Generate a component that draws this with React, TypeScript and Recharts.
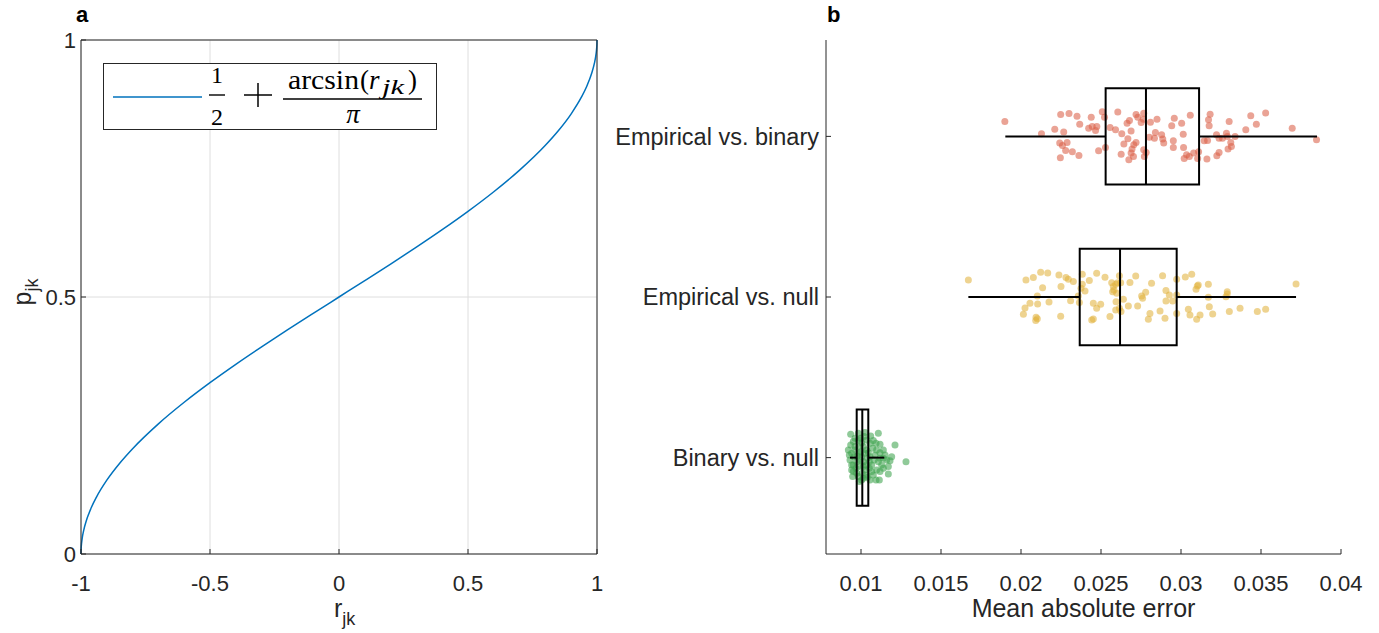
import React from 'react';
import {
  ComposedChart,
  LineChart,
  Line,
  Scatter,
  XAxis,
  YAxis,
  CartesianGrid,
  ReferenceArea,
  ReferenceLine,
  Legend,
} from 'recharts';

// ── Panel a: p = 1/2 + arcsin(r)/pi ──
const rValues = [
  -1, -0.9999, -0.999, -0.998, -0.995, -0.99, -0.98, -0.97, -0.96, -0.94, -0.9, -0.85, -0.8,
  -0.7, -0.6, -0.5, -0.4, -0.3, -0.2, -0.1, 0, 0.1, 0.2, 0.3, 0.4, 0.5, 0.6, 0.7, 0.8, 0.85,
  0.9, 0.94, 0.96, 0.97, 0.98, 0.99, 0.995, 0.998, 0.999, 0.9999, 1,
];
const pValues = [
  0, 0.0045, 0.01423, 0.02014, 0.03189, 0.04505, 0.06377, 0.07798, 0.09033, 0.11083, 0.14357,
  0.1766, 0.20483, 0.25318, 0.29517, 0.33333, 0.36901, 0.40301, 0.43591, 0.46811, 0.5, 0.53189,
  0.56409, 0.59699, 0.63099, 0.66667, 0.70483, 0.74682, 0.79517, 0.8234, 0.85643, 0.88917,
  0.90967, 0.92202, 0.93623, 0.95495, 0.96811, 0.97986, 0.98577, 0.9955, 1,
];
const rTicks = [-1, -0.5, 0, 0.5, 1];
const pTicks = [0, 0.5, 1];

// ── Panel b: box stats per group (bottom to top) ──
const groupNames = ['Binary vs. null', 'Empirical vs. null', 'Empirical vs. binary'];
const groupPos = [1, 2, 3];
const whiskerLow = [0.009313, 0.01671, 0.01902];
const q1 = [0.009731, 0.02367, 0.02529];
const median = [0.010081, 0.02619, 0.02781];
const q3 = [0.010456, 0.02973, 0.03113];
const whiskerHigh = [0.011456, 0.03719, 0.0385];
const maeTicks = [0.01, 0.015, 0.02, 0.025, 0.03, 0.035, 0.04];

// jittered points: value and vertical jitter around the group position
const redMae = [
  0.01899, 0.02128, 0.02211, 0.02248, 0.023, 0.0235, 0.02367, 0.02267, 0.02242, 0.02259, 0.02288,
  0.02279, 0.02246, 0.02321, 0.02362, 0.02423, 0.02439, 0.02445, 0.02466, 0.02474, 0.02508,
  0.02522, 0.02485, 0.02528, 0.02557, 0.02591, 0.02605, 0.0263, 0.02643, 0.02626, 0.02674,
  0.02668, 0.02688, 0.02663, 0.02678, 0.02719, 0.0273, 0.02751, 0.02767, 0.02765, 0.02809,
  0.0285, 0.02719, 0.02705, 0.02694, 0.02688, 0.02703, 0.02767, 0.02771, 0.02782, 0.02802,
  0.0284, 0.02834, 0.02879, 0.02886, 0.02892, 0.02942, 0.02952, 0.02958, 0.02952, 0.03004,
  0.03014, 0.03016, 0.0302, 0.03035, 0.03052, 0.03058, 0.03079, 0.0311, 0.03104, 0.03145,
  0.03166, 0.03162, 0.03176, 0.03172, 0.03182, 0.03222, 0.03238, 0.03259, 0.03284, 0.0329,
  0.03301, 0.03311, 0.03294, 0.03315, 0.03338, 0.03238, 0.03224, 0.03405, 0.03436, 0.03471,
  0.03529, 0.03695, 0.03847,
];
const redJit = [
  0.092, 0.016, 0.045, 0.136, 0.142, 0.126, 0.076, 0.028, -0.042, -0.057, -0.038, -0.088, -0.133,
  -0.096, -0.119, 0.051, 0.119, 0.061, 0.036, 0.061, 0.154, 0.119, -0.09, -0.069, 0.055, 0.041,
  0.152, 0.016, -0.048, -0.112, -0.146, -0.015, 0.034, 0.082, 0.099, 0.136, 0.119, 0.086, 0.144,
  0.107, 0.088, 0.107, -0.038, -0.052, -0.079, -0.104, -0.125, -0.083, -0.125, -0.1, -0.005,
  0.024, -0.011, 0.01, -0.017, -0.042, 0.066, -0.028, 0.113, -0.069, 0.082, 0.014, -0.069,
  -0.137, -0.115, -0.125, 0.132, -0.104, -0.096, -0.137, -0.028, -0.026, -0.141, 0.066, 0.103,
  0.138, 0.01, -0.011, -0.011, 0.02, -0.001, 0.092, -0.038, -0.079, -0.063, -0.001, -0.1, -0.121,
  0.041, 0.128, 0.076, 0.146, 0.051, -0.021,
];
const goldMae = [
  0.01671, 0.02031, 0.02077, 0.02123, 0.02167, 0.02237, 0.02281, 0.02296, 0.02327, 0.02135,
  0.0225, 0.02102, 0.02056, 0.02104, 0.02175, 0.02025, 0.02015, 0.02094, 0.02102, 0.02092,
  0.02248, 0.0231, 0.02358, 0.02365, 0.02375, 0.02383, 0.02383, 0.024, 0.02427, 0.02473, 0.02525,
  0.02567, 0.02577, 0.02573, 0.02581, 0.02592, 0.02604, 0.02615, 0.02623, 0.02598, 0.02594,
  0.02592, 0.02615, 0.02625, 0.0264, 0.02671, 0.02681, 0.02717, 0.02729, 0.02754, 0.0276,
  0.02779, 0.02816, 0.02452, 0.02473, 0.02498, 0.02452, 0.02442, 0.02556, 0.02806, 0.02796,
  0.02869, 0.029, 0.02885, 0.02906, 0.02927, 0.02906, 0.02948, 0.02973, 0.02973, 0.02973,
  0.03027, 0.03067, 0.03046, 0.03056, 0.03102, 0.03094, 0.03108, 0.03098, 0.03119, 0.03171,
  0.03171, 0.03177, 0.03198, 0.03281, 0.03289, 0.03289, 0.03302, 0.03369, 0.03477, 0.03529,
  0.03719,
];
const goldJit = [
  0.106, 0.106, 0.121, 0.154, 0.15, 0.137, 0.121, 0.11, 0.096, 0.058, 0.065, 0.006, -0.039,
  -0.043, -0.031, -0.068, -0.108, -0.126, -0.135, -0.147, -0.12, -0.023, 0.006, -0.035, 0.054,
  0.079, 0.141, 0.037, 0.102, 0.148, 0.123, 0.089, 0.065, 0.033, 0.044, 0.079, 0.089, 0.133,
  0.089, 0.023, -0.029, -0.081, -0.07, -0.091, -0.014, -0.056, 0.091, 0.131, -0.056, 0.006,
  -0.008, 0.029, 0.085, -0.039, -0.07, -0.045, -0.137, -0.143, -0.122, -0.102, -0.139, -0.087,
  -0.133, 0.133, 0.04, 0.013, -0.025, -0.025, 0.11, 0.013, -0.102, 0.125, 0.141, -0.077, -0.112,
  0.069, 0.048, 0.075, -0.139, -0.112, 0.079, -0.002, -0.06, -0.106, 0.002, 0.033, 0.019, -0.091,
  -0.07, -0.091, -0.077, 0.081,
];
const greenMae = [
  0.009354, 0.009834, 0.01025, 0.011083, 0.010771, 0.010938, 0.011188, 0.012125, 0.009209,
  0.009417, 0.009625, 0.010354, 0.010458, 0.010563, 0.010875, 0.011188, 0.011396, 0.011604,
  0.011813, 0.012812, 0.011708, 0.011292, 0.010979, 0.011188, 0.011708, 0.011146, 0.010563,
  0.010146, 0.009834, 0.009521, 0.009417, 0.009729, 0.009938, 0.010042, 0.01025, 0.010667,
  0.010771, 0.010354, 0.010042, 0.009896, 0.009521, 0.009313, 0.010146, 0.010521, 0.011083,
  0.011396, 0.010729, 0.009771, 0.009563, 0.009979, 0.010396, 0.010938, 0.011396, 0.009688,
  0.009479, 0.010188, 0.010604, 0.009979, 0.009271, 0.0115, 0.011917, 0.010979, 0.010313,
  0.009896, 0.010813, 0.011188, 0.009625, 0.010063, 0.010521, 0.009354, 0.009625, 0.009834,
  0.010146, 0.01025, 0.009938, 0.010396, 0.009729, 0.010042, 0.010354, 0.010667, 0.009521,
  0.010563, 0.010146, 0.009896, 0.009417,
];
const greenJit = [
  0.145, 0.152, 0.156, 0.152, 0.106, 0.089, 0.083, 0.079, 0.048, 0.027, 0.069, 0.048, 0.031,
  0.006, 0.017, 0.031, -0.004, -0.015, -0.019, -0.025, -0.056, -0.046, -0.077, -0.087, -0.102,
  -0.139, -0.139, -0.129, -0.118, -0.087, -0.046, -0.025, -0.056, 0.006, -0.077, -0.046, -0.108,
  0.11, 0.093, 0.069, 0.1, -0.015, -0.025, -0.066, -0.025, 0.048, 0.058, 0.01, 0.006, 0.037,
  -0.122, -0.139, -0.066, -0.066, -0.118, 0.131, 0.135, 0.12, 0.017, 0.017, 0.006, 0.048, -0.046,
  -0.149, -0.015, -0.004, 0.048, -0.098, -0.025, 0.079, 0.12, 0.11, 0.069, 0.027, -0.015, -0.004,
  -0.098, -0.139, -0.108, -0.087, -0.046, 0.089, -0.056, 0.027, -0.077,
];

const AXIS = '#262626';
const SANS = "'Liberation Sans', Arial, Helvetica, sans-serif";
const SERIF = "'Liberation Serif', 'DejaVu Serif', serif";

const lineData = rValues.map((r, i) => ({ r, p: pValues[i] }));
const toPoints = (vals: number[], jit: number[], pos: number) =>
  vals.map((v, i) => ({ mae: v, pos: pos + jit[i] }));
const greenPts = toPoints(greenMae, greenJit, 1);
const goldPts = toPoints(goldMae, goldJit, 2);
const redPts = toPoints(redMae, redJit, 3);

const dot = (color: string) => (props: any) =>
  <circle cx={props.cx} cy={props.cy} r={3.5} fill={color} fillOpacity={0.58} />;

const MathLegend = () => (
  <svg width={334} height={67} style={{ display: 'block' }}>
    <rect x={0.5} y={0.5} width={333} height={66} fill="#fff" stroke={AXIS} strokeWidth={1} />
    <line x1={10} x2={99} y1={34} y2={34} stroke="#0072BD" strokeWidth={1.5} />
    <g fontFamily={SERIF} fill="#000">
      <text x={114} y={20} fontSize={24} textAnchor="middle">1</text>
      <line x1={106} x2={122} y1={32} y2={32} stroke="#000" strokeWidth={1.4} />
      <text x={114} y={62} fontSize={24} textAnchor="middle">2</text>
      <line x1={141} x2={169} y1={32} y2={32} stroke="#000" strokeWidth={1.5} />
      <line x1={155} x2={155} y1={20} y2={44} stroke="#000" strokeWidth={1.5} />
      <text x={185} y={26} fontSize={27} textLength={71} lengthAdjust="spacingAndGlyphs">arcsin</text>
      <text x={257} y={26} fontSize={27}>(</text>
      <text x={266} y={26} fontSize={27} fontStyle="italic">r</text>
      <text x={279} y={31} fontSize={20} fontStyle="italic" textLength={22} lengthAdjust="spacingAndGlyphs">jk</text>
      <text x={305} y={26} fontSize={27}>)</text>
      <line x1={180} x2={319} y1={36} y2={36} stroke="#000" strokeWidth={1.6} />
      <text x={250} y={60} fontSize={27} fontStyle="italic" textAnchor="middle">π</text>
    </g>
  </svg>
);

const tickStyle = { fill: AXIS, fontSize: 22, fontFamily: SANS };

export default function App() {
  return (
    <div style={{ position: 'absolute', left: 0, top: 0, width: 1379, height: 633, background: '#fff', fontFamily: SANS }}>
      <div style={{ position: 'absolute', left: 76, top: 2, fontWeight: 'bold', fontSize: 22, color: '#000' }}>a</div>
      <div style={{ position: 'absolute', left: 827, top: 2, fontWeight: 'bold', fontSize: 22, color: '#000' }}>b</div>

      {/* ── Panel a ── */}
      <div style={{ position: 'absolute', left: 0, top: 0 }}>
        <LineChart width={620} height={633} data={lineData} margin={{ top: 39, right: 22, bottom: 0, left: 0 }}>
          <CartesianGrid stroke="#dedede" />
          <XAxis
            dataKey="r"
            type="number"
            domain={[-1, 1]}
            ticks={rTicks}
            height={79}
            tickSize={-5}
            tickMargin={26}
            stroke={AXIS}
            tick={tickStyle}
            label={() => (
              <text x={334} y={617} fontSize={25} fill={AXIS} fontFamily={SANS}>
                r<tspan fontSize={18} dy={8}>jk</tspan>
              </text>
            )}
          />
          <XAxis xAxisId="top" orientation="top" dataKey="r" type="number" domain={[-1, 1]} ticks={rTicks} height={1} tickSize={-5} tick={false} stroke={AXIS} />
          <YAxis
            type="number"
            domain={[0, 1]}
            ticks={pTicks}
            width={81}
            tickSize={-5}
            tickMargin={10}
            stroke={AXIS}
            tick={tickStyle}
            label={() => (
              <text transform="translate(31,292) rotate(-90)" textAnchor="middle" fontSize={25} fill={AXIS} fontFamily={SANS}>
                p<tspan fontSize={18} dy={7}>jk</tspan>
              </text>
            )}
          />
          <YAxis yAxisId="right" orientation="right" type="number" domain={[0, 1]} ticks={pTicks} width={1} tickSize={-5} tick={false} stroke={AXIS} />
          <Line type="monotone" dataKey="p" stroke="#0072BD" strokeWidth={1.5} dot={false} isAnimationActive={false} />
          <Legend
            layout="horizontal"
            verticalAlign="middle"
            content={() => <MathLegend />}
            wrapperStyle={{ position: 'absolute', left: 103, top: 63, width: 334, height: 67 }}
          />
        </LineChart>
      </div>

      {/* ── Panel b ── */}
      <div style={{ position: 'absolute', left: 560, top: 0 }}>
        <ComposedChart width={819} height={633} margin={{ top: 40, right: 38, bottom: 0, left: 0 }}>
          <XAxis
            dataKey="mae"
            type="number"
            domain={[0.0078125, 0.04]}
            allowDataOverflow
            ticks={maeTicks}
            height={79}
            tickSize={-5}
            tickMargin={26}
            stroke={AXIS}
            tick={tickStyle}
            label={() => (
              <text x={1083.5 - 560} y={617} textAnchor="middle" fontSize={25} fill={AXIS} fontFamily={SANS}>
                Mean absolute error
              </text>
            )}
          />
          <YAxis
            dataKey="pos"
            type="number"
            domain={[0.4, 3.6]}
            allowDataOverflow
            ticks={groupPos}
            tickFormatter={(v: number) => groupNames[groupPos.indexOf(v)] ?? ''}
            width={266}
            tickSize={-5}
            tickMargin={12}
            stroke={AXIS}
            tick={{ ...tickStyle, fontSize: 23.5 }}
          />
          <Scatter data={greenPts} shape={dot('#3fa350')} isAnimationActive={false} />
          <Scatter data={goldPts} shape={dot('#e1b43f')} isAnimationActive={false} />
          <Scatter data={redPts} shape={dot('#da6148')} isAnimationActive={false} />
          {groupPos.map((pos, i) => (
            <ReferenceArea
              key={`box${i}`}
              x1={q1[i]}
              x2={q3[i]}
              y1={pos - 0.3}
              y2={pos + 0.3}
              fill="none"
              stroke="#000"
              strokeWidth={2}
              zIndex={700}
            />
          ))}
          {groupPos.map((pos, i) => (
            <ReferenceLine key={`med${i}`} segment={[{ x: median[i], y: pos - 0.3 }, { x: median[i], y: pos + 0.3 }]} stroke="#000" strokeWidth={2} zIndex={700} />
          ))}
          {groupPos.map((pos, i) => (
            <ReferenceLine key={`wl${i}`} segment={[{ x: whiskerLow[i], y: pos }, { x: q1[i], y: pos }]} stroke="#000" strokeWidth={2} zIndex={700} />
          ))}
          {groupPos.map((pos, i) => (
            <ReferenceLine key={`wh${i}`} segment={[{ x: q3[i], y: pos }, { x: whiskerHigh[i], y: pos }]} stroke="#000" strokeWidth={2} zIndex={700} />
          ))}
        </ComposedChart>
      </div>
    </div>
  );
}
